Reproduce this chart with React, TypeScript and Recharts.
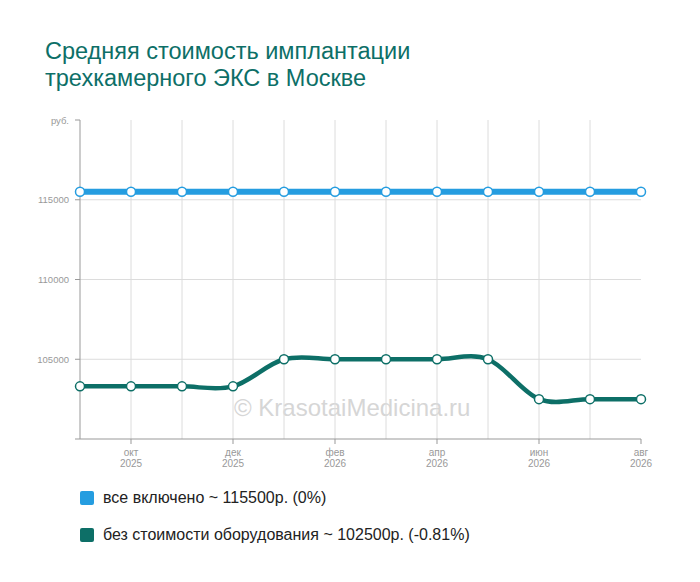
import React from 'react';
import { LineChart, Line, XAxis, YAxis, CartesianGrid } from 'recharts';

const months = ['сен', 'окт', 'ноя', 'дек', 'янв', 'фев', 'мар', 'апр', 'май', 'июн', 'июл', 'авг'];
const years = ['2025', '2025', '2025', '2025', '2026', '2026', '2026', '2026', '2026', '2026', '2026', '2026'];
const allIncluded = [115500, 115500, 115500, 115500, 115500, 115500, 115500, 115500, 115500, 115500, 115500, 115500];
const noEquipment = [103300, 103300, 103300, 103300, 105000, 105000, 105000, 105000, 105000, 102500, 102500, 102500];
const labeledTicks = [1, 3, 5, 7, 9, 11];
const gridX = [1, 2, 3, 4, 5, 6, 7, 8, 9, 10];
const yTicks = [100000, 105000, 110000, 115000, 120000];
const gridY = [105000, 110000, 115000];

const series = [
    { key: 'all', name: 'все включено ~ 115500р. (0%)', color: '#259de0', width: 6 },
    { key: 'noEq', name: 'без стоимости оборудования ~ 102500р. (-0.81%)', color: '#0d6f67', width: 4.5 },
];

const data = months.map((m, i) => ({ idx: i, all: allIncluded[i], noEq: noEquipment[i] }));

// catmull-rom style curve, overshoots a little like the original
const smoothCurve = (context: any) => {
    let pts: number[][] = [];
    return {
        areaStart() {},
        areaEnd() {},
        lineStart() {
            pts = [];
        },
        lineEnd() {
            if (!pts.length) return;
            context.moveTo(pts[0][0], pts[0][1]);
            for (let i = 0; i < pts.length - 1; i++) {
                const p0 = pts[i - 1] || pts[i];
                const p1 = pts[i];
                const p2 = pts[i + 1];
                const p3 = pts[i + 2] || p2;
                context.bezierCurveTo(
                    p1[0] + (p2[0] - p0[0]) / 6,
                    p1[1] + (p2[1] - p0[1]) / 6,
                    p2[0] - (p3[0] - p1[0]) / 6,
                    p2[1] - (p3[1] - p1[1]) / 6,
                    p2[0],
                    p2[1]
                );
            }
        },
        point(x: number, y: number) {
            pts.push([+x, +y]);
        },
    };
};

const MonthTick = ({ x, y, payload }: any) => (
    <text x={x} y={y} textAnchor="middle" fill="#999" fontSize={10}>
        <tspan x={x} dy={12}>{months[payload.value]}</tspan>
        <tspan x={x} dy={11}>{years[payload.value]}</tspan>
    </text>
);

const formatY = (v: number) => (v === 120000 ? 'руб.' : v === 100000 ? '' : String(v));

const PriceTick = ({ x, y, payload }: any) => (
    <text x={x} y={y} dy={3.5} textAnchor="end" fill="#999" fontSize={9.5}>
        {formatY(payload.value)}
    </text>
);

export default function App() {
    return (
        <div style={{ position: 'absolute', left: 0, top: 0, width: 700, height: 582, background: '#fff', fontFamily: '"Liberation Sans", Arial, sans-serif' }}>
            <div style={{ position: 'absolute', left: 45, top: 38, fontSize: 23.5, lineHeight: '27px', color: '#0d6f67' }}>
                Средняя стоимость имплантации
                <br />
                трехкамерного ЭКС в Москве
            </div>
            <div style={{ position: 'absolute', left: 234, top: 394, fontSize: 24, lineHeight: '27px', color: '#d6d6d6' }}>
                © KrasotaiMedicina.ru
            </div>
            <div style={{ position: 'absolute', left: 0, top: 0 }}>
                <LineChart width={700} height={582} data={data} margin={{ top: 120, right: 59, bottom: 103, left: 20 }}>
                    <CartesianGrid stroke="#dcdcdc" horizontalValues={gridY} verticalValues={gridX} />
                    <XAxis
                        type="number"
                        dataKey="idx"
                        domain={[0, 11]}
                        ticks={labeledTicks}
                        tick={<MonthTick />}
                        tickSize={5}
                        tickMargin={0}
                        height={40}
                        stroke="#999"
                        interval={0}
                    />
                    <YAxis
                        type="number"
                        domain={[100000, 120000]}
                        ticks={yTicks}
                        tick={<PriceTick />}
                        tickSize={5}
                        tickMargin={6}
                        width={60}
                        stroke="#999"
                        interval={0}
                    />
                    {series.map((s) => (
                        <Line
                            key={s.key}
                            dataKey={s.key}
                            type={smoothCurve as any}
                            stroke={s.color}
                            strokeWidth={s.width}
                            dot={{ r: 4.5, fill: '#fff', stroke: s.color, strokeWidth: 1.5 }}
                            activeDot={false}
                            isAnimationActive={false}
                        />
                    ))}
                </LineChart>
            </div>
            {series.map((s, i) => (
                <div key={s.key} style={{ position: 'absolute', left: 80, top: 489 + i * 37, height: 18, display: 'flex', alignItems: 'center', fontSize: 16, color: '#222' }}>
                    <span style={{ width: 14, height: 14, borderRadius: 2, background: s.color, marginRight: 9 }} />
                    {s.name}
                </div>
            ))}
        </div>
    );
}
